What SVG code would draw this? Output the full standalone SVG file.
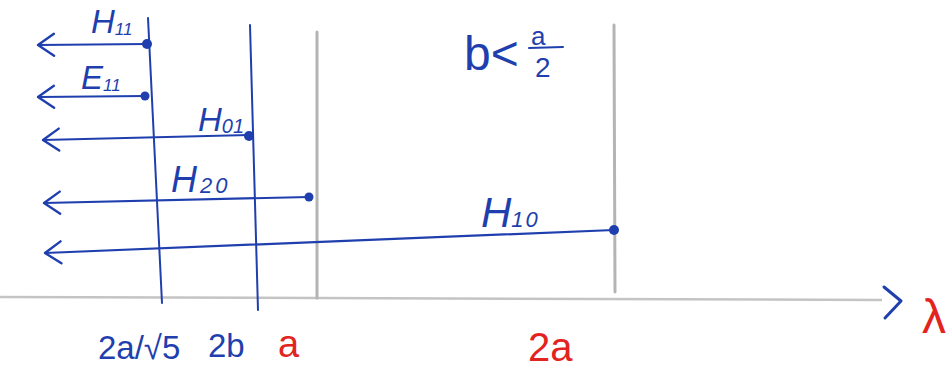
<svg xmlns="http://www.w3.org/2000/svg" width="947" height="383" viewBox="0 0 947 383">
<style>
.bg{fill:#fff}
.gray{stroke:#b4b4b4;stroke-width:3;fill:none;stroke-linecap:round}
.axis{stroke:#c4c4c4;stroke-width:2.5;fill:none}
.blue{stroke:#1f3fae;stroke-width:2;fill:none;stroke-linecap:round}
.conn{stroke:#1f3fae;stroke-width:2.2;fill:none;stroke-linecap:round}
.dot{fill:#1f3fae}
.lb{font-family:"Liberation Sans","DejaVu Sans",sans-serif;fill:#1f3fae;font-style:italic}
.red{font-family:"Liberation Sans","DejaVu Sans",sans-serif;fill:#e3241e}
.bl{font-family:"Liberation Sans","DejaVu Sans",sans-serif;fill:#1f3fae}
</style>
<defs>
<marker id="open" markerUnits="userSpaceOnUse" markerWidth="30" markerHeight="30" refX="18" refY="12" orient="auto" viewBox="0 0 30 24">
<path d="M2,1 L18,12 L2,23" fill="none" stroke="#1f3fae" stroke-width="2.4" stroke-linecap="round" stroke-linejoin="round"/>
</marker>
</defs>
<rect class="bg" x="0" y="0" width="947" height="383"/>

<g id="axes">
<line class="axis" x1="0" y1="297" x2="882" y2="300"/>
<path d="M884,287 L901,301 L885,318" fill="none" stroke="#1f3fae" stroke-width="3" stroke-linecap="round" stroke-linejoin="round"/>
<text class="red" x="922" y="333" font-size="48">λ</text>
</g>

<g id="cutoffs">
<line class="blue" x1="148" y1="18" x2="162" y2="303"/>
<line class="blue" x1="250" y1="25" x2="258" y2="310"/>
<line class="gray" x1="317" y1="32" x2="317" y2="298"/>
<line class="gray" x1="614" y1="25" x2="615" y2="292"/>
</g>

<g id="connectors">
<line class="conn" x1="146" y1="44" x2="38" y2="45" marker-end="url(#open)"/>
<line class="conn" x1="145" y1="96" x2="38" y2="97" marker-end="url(#open)"/>
<line class="conn" x1="249" y1="135" x2="43" y2="140" marker-end="url(#open)"/>
<line class="conn" x1="309" y1="197" x2="44" y2="203" marker-end="url(#open)"/>
<line class="conn" x1="614" y1="230" x2="45" y2="253" marker-end="url(#open)"/>
</g>

<g id="H11">
<circle class="dot" cx="147" cy="44" r="5"/>
<text class="lb" x="91" y="33" font-size="33">H<tspan font-size="17" dy="2">11</tspan></text>
</g>
<g id="E11">
<circle class="dot" cx="145" cy="96" r="4.5"/>
<text class="lb" x="81" y="89" font-size="33">E<tspan font-size="17" dy="2">11</tspan></text>
</g>
<g id="H01">
<circle class="dot" cx="249" cy="136" r="5"/>
<text class="lb" x="198" y="131" font-size="33">H<tspan font-size="20" dy="2">01</tspan></text>
</g>
<g id="H20">
<circle class="dot" cx="309" cy="197" r="4.5"/>
<text class="lb" x="171" y="192" font-size="36">H<tspan font-size="22" dx="3" dy="1" letter-spacing="3">20</tspan></text>
</g>
<g id="H10">
<circle class="dot" cx="614" cy="230" r="5"/>
<text class="lb" x="481" y="227" font-size="42">H<tspan font-size="22" letter-spacing="2">10</tspan></text>
</g>

<g id="condition">
<text class="bl" x="464" y="70" font-size="48">b&lt;</text>
<text class="bl" x="531" y="45" font-size="26">a</text>
<line class="blue" x1="529" y1="48" x2="563" y2="47"/>
<text class="bl" x="535" y="77" font-size="28">2</text>
</g>

<g id="ticks">
<text class="bl" x="98" y="359" font-size="33">2a/√5</text>
<text class="bl" x="208" y="357" font-size="33">2b</text>
<text class="red" x="278" y="357" font-size="38">a</text>
<text class="red" x="528" y="361" font-size="40">2a</text>
</g>
</svg>
